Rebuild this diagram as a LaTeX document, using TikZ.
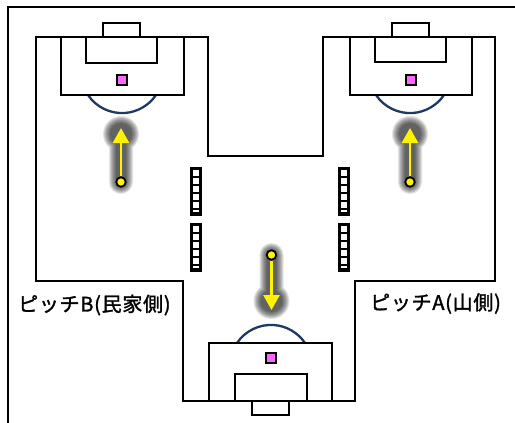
\documentclass[tikz,border=0pt]{standalone}
\usepackage{fontspec}
\usetikzlibrary{arrows.meta}
\newfontfamily\cjk[LetterSpace=3.6,FakeBold=1.4]{Noto Sans CJK JP}
\tikzset{
  px/.style={x=1pt,y=-1pt},
  lines/.style={draw=black,line width=2.3pt,line join=miter},
  bigline/.style={draw=black,line width=2.4pt,line join=miter},
  spot/.style={draw=black,line width=2pt,fill=spotpink},
  arcline/.style={draw=arcblue,line width=2.3pt},
  dotnode/.style={circle,draw=black,line width=1.8pt,fill=yellow,minimum size=9.5pt,inner sep=0pt},
  shot/.style={draw=yellow,line width=2.8pt,-{Triangle[width=16pt,length=15pt,fill=yellow]}},
  label/.style={font=\cjk\fontsize{20}{21}\selectfont,text=black,inner sep=0pt,anchor=west},
}
\definecolor{spotpink}{HTML}{FF66FF}
\definecolor{arcblue}{HTML}{1F3864}
\newcommand{\netbox}[2]{%
  \fill[black] (#1,#2) rectangle ++(12,49);
  \foreach \k in {0,...,4}{\fill[white] (#1+3.2,#2+3.2+8*\k) rectangle ++(5.6,5.8);}
  \fill[white] (#1+3.2,#2+43.2) rectangle ++(5.6,1.6);
}
\newcommand{\glowshaft}[3]{%
  % #1 x, #2 tail y, #3 head-centre y
  \foreach \r in {12,11,...,5}{%
    \begin{scope}[transparency group,opacity=.11]
      \fill[black] (#1,#2) circle[radius=\r];
      \fill[black] (#1-\r,#2) rectangle (#1+\r,#3);
      \fill[black] (#1,#3) circle[radius=\r+6];
    \end{scope}}
}
\begin{document}
\begin{tikzpicture}[px]
\useasboundingbox (0,0) rectangle (515,423);
\fill[white] (0,0) rectangle (515,423);
% outer frame
\draw[bigline] (8,423) -- (8,7) -- (515,7);
% glows
\glowshaft{121}{182}{134}
\glowshaft{410}{182}{134}
\glowshaft{271.5}{255}{301}
% pitch outline
\draw[lines] (36,37) -- (208,37) -- (208,156) -- (323,156) -- (323,37) -- (495,37) -- (495,281) -- (355,281) -- (355,401) -- (183,401) -- (183,281) -- (36,281) -- cycle;
% pitch B
\draw[arcline] (88,95) arc[start angle=146,end angle=34,radius=41];
\draw[lines] (61,37) rectangle (184,95);
\draw[lines] (86,37) rectangle (157,63);
\draw[lines] (103,23) rectangle (140,37);
\draw[spot] (117,74.5) rectangle (127,85);
% pitch A
\draw[arcline] (376,95) arc[start angle=146,end angle=34,radius=41];
\draw[lines] (350,37) rectangle (472,95);
\draw[lines] (375,37) rectangle (446,62);
\draw[lines] (392,23) rectangle (429,37);
\draw[spot] (406,74.5) rectangle (416,85);
% bottom
\draw[arcline] (237,343) arc[start angle=-146,end angle=-34,radius=41];
\draw[lines] (209,343) rectangle (332,401);
\draw[lines] (235,374) rectangle (307,401);
\draw[lines] (252,401) rectangle (289,415);
\draw[spot] (266,353) rectangle (276,363);
% nets
\netbox{190}{167}
\netbox{190}{223}
\netbox{338}{167}
\netbox{338}{223}
% shots
\node[dotnode] (bs) at (121,182) {};
\coordinate (be) at (121,128);
\draw[shot] (bs) -- (be);
\node[dotnode] (as) at (410,182) {};
\coordinate (ae) at (410,128);
\draw[shot] (as) -- (ae);
\node[dotnode] (cs) at (271.5,255) {};
\coordinate (ce) at (271.5,310);
\draw[shot] (cs) -- (ce);
% labels
\node[label] (lb) at (18,305) {ピッチB(民家側)};
\node[label] (la) at (370,303.5) {ピッチA(山側)};
\end{tikzpicture}
\end{document}
